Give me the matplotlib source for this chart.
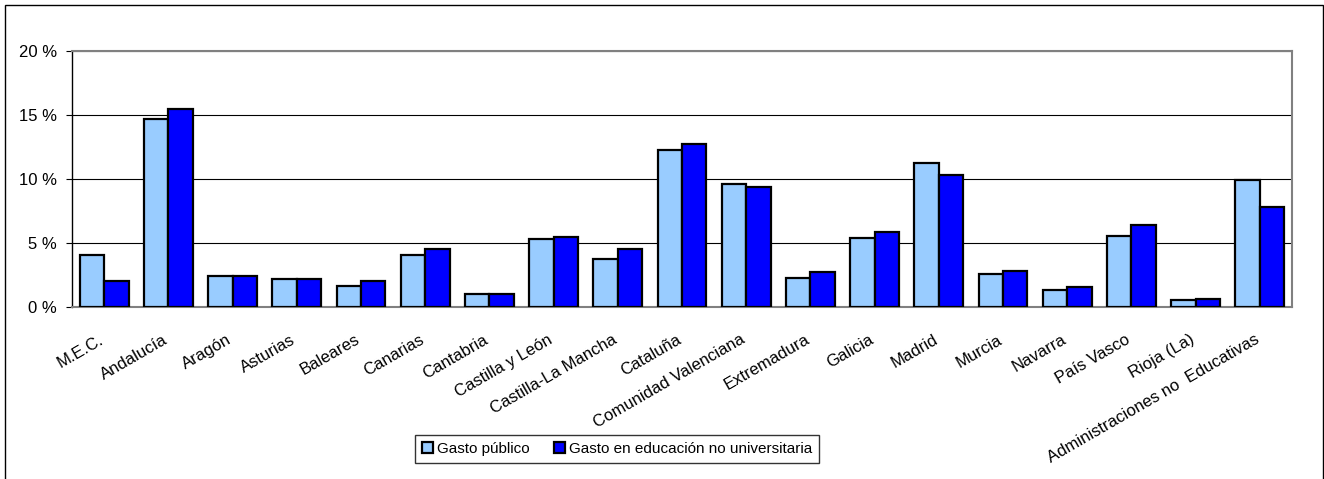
import numpy as np
import matplotlib
matplotlib.use("Agg")
import matplotlib.pyplot as plt
from matplotlib.patches import Rectangle
from matplotlib.transforms import ScaledTranslation

plt.rcParams['font.family'] = ['Liberation Sans', 'DejaVu Sans']

regiones = ["M.E.C.", "Andalucía", "Aragón", "Asturias", "Baleares", "Canarias",
            "Cantabria", "Castilla y León", "Castilla-La Mancha", "Cataluña",
            "Comunidad Valenciana", "Extremadura", "Galicia", "Madrid", "Murcia",
            "Navarra", "País Vasco", "Rioja (La)", "Administraciones no  Educativas"]

gasto_publico = [4.1, 14.7, 2.4, 2.2, 1.65, 4.1, 1.0, 5.3, 3.75, 12.3,
                 9.6, 2.25, 5.4, 11.25, 2.55, 1.35, 5.55, 0.58, 9.9]
gasto_no_univ = [2.0, 15.5, 2.45, 2.15, 2.05, 4.55, 1.05, 5.5, 4.5, 12.7,
                 9.35, 2.7, 5.85, 10.3, 2.8, 1.6, 6.4, 0.62, 7.8]

series = ["Gasto público", "Gasto en educación no universitaria"]
colores = ["#99CCFF", "#0000FF"]

W, H = 1324, 479
fig = plt.figure(figsize=(W / 100, H / 100), dpi=100)
ax = fig.add_axes([72 / W, 1 - 307 / H, (1292 - 72) / W, (307 - 51) / H])

x = np.arange(len(regiones))
ancho = 0.38
for k, (vals, col, nom) in enumerate(zip([gasto_publico, gasto_no_univ], colores, series)):
    ax.bar(x + (k - 0.5) * ancho, vals, width=ancho, color=col, edgecolor="black",
           linewidth=1.6, label=nom, zorder=3)

ax.set_xlim(-0.5, len(regiones) - 0.5)
ax.set_ylim(0, 20)
ax.set_yticks([0, 5, 10, 15, 20])
ax.set_yticklabels([f"{v} %" for v in [0, 5, 10, 15, 20]])
ax.yaxis.grid(True, color="black", linewidth=0.8, zorder=0)
ax.tick_params(axis="y", length=4, width=0.8, pad=7, labelsize=12)
ax.tick_params(axis="x", length=0, pad=18, labelsize=12)

ax.set_xticks(x)
ax.set_xticklabels(regiones, rotation=30, ha="right", rotation_mode="anchor")
for lab in ax.get_xticklabels():
    lab.set_transform(lab.get_transform() + ScaledTranslation(-6 / 100, 0, fig.dpi_scale_trans))

for s in ["top", "right", "bottom"]:
    ax.spines[s].set_color("#808080")
    ax.spines[s].set_linewidth(1.5)
ax.spines["left"].set_color("black")
ax.spines["left"].set_linewidth(1)

leg = fig.legend(loc="center", bbox_to_anchor=(617 / W, 1 - 449 / H), ncol=2,
                 fontsize=11, frameon=True, fancybox=False, edgecolor="black",
                 handlelength=0.75, handleheight=0.75, handletextpad=0.25,
                 columnspacing=1.6, borderpad=0.45)
leg.get_frame().set_linewidth(1)

fig.patches.append(Rectangle((5 / W, -0.02), (1323 - 5) / W, 1 - 5 / H + 0.02,
                             transform=fig.transFigure, fill=False,
                             edgecolor="black", linewidth=1))

fig.savefig("out.png", dpi=100)
